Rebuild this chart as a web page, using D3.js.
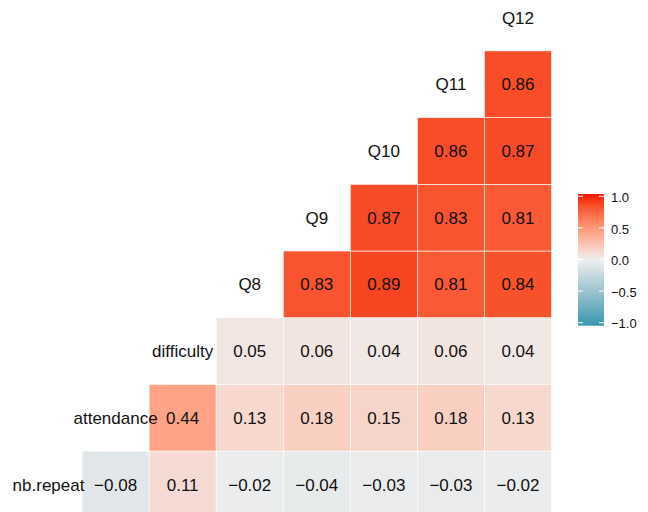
<!DOCTYPE html>
<html><head><meta charset="utf-8">
<script src="https://cdn.jsdelivr.net/npm/d3@7"></script>
<style>body{margin:0;background:#fff}svg{display:block}</style>
</head><body>
<svg id="chart" width="648" height="512"></svg>
<script>
// variables, in diagonal order (bottom-left to top-right)
const variables = ["nb.repeat","attendance","difficulty","Q8","Q9","Q10","Q11","Q12"];
// correlations of each variable with the variables after it
const corrNbRepeat   = [-0.08, 0.11, -0.02, -0.04, -0.03, -0.03, -0.02];
const corrAttendance = [0.44, 0.13, 0.18, 0.15, 0.18, 0.13];
const corrDifficulty = [0.05, 0.06, 0.04, 0.06, 0.04];
const corrQ8         = [0.83, 0.89, 0.81, 0.84];
const corrQ9         = [0.87, 0.83, 0.81];
const corrQ10        = [0.86, 0.87];
const corrQ11        = [0.86];
const legendTicks    = [-1, -0.5, 0, 0.5, 1];

const rows = [corrNbRepeat, corrAttendance, corrDifficulty, corrQ8, corrQ9, corrQ10, corrQ11];
const cells = [];
rows.forEach((vals, i) => vals.forEach((v, k) => cells.push({row: variables[i], col: variables[i + 1 + k], value: v})));

const svg = d3.select("#chart");
const font = "'Liberation Sans', Arial, Helvetica, sans-serif";

const x = d3.scaleBand().domain(variables).range([15, 551.5]);
const y = d3.scaleBand().domain(variables).range([517.8, -15.8]);

const color = d3.scaleLinear().domain([-1, 0, 1])
  .range(["#3B9AB2", "#EEEEEE", "#F21A00"]).interpolate(d3.interpolateLab);

const fmt2 = d3.format(".2f");
const fmt1 = d3.format(".1f");

svg.append("g").selectAll("rect").data(cells).join("rect")
  .attr("x", d => x(d.col)).attr("y", d => y(d.row))
  .attr("width", x.bandwidth()).attr("height", y.bandwidth())
  .attr("fill", d => color(d.value))
  .attr("stroke", "white").attr("stroke-width", 0.6);

svg.append("g").selectAll("text").data(cells).join("text")
  .attr("x", d => x(d.col) + x.bandwidth() / 2)
  .attr("y", d => y(d.row) + y.bandwidth() / 2)
  .attr("dy", "0.36em").attr("text-anchor", "middle")
  .attr("font-family", font).attr("font-size", 17).attr("fill", "#111")
  .text(d => fmt2(d.value));

svg.append("g").selectAll("text").data(variables).join("text")
  .attr("x", d => x(d) + x.bandwidth() / 2)
  .attr("y", d => y(d) + y.bandwidth() / 2)
  .attr("dy", "0.36em").attr("text-anchor", "middle")
  .attr("font-family", font).attr("font-size", 17).attr("fill", "#111")
  .text(d => d);

// legend colourbar
const barX = 578, barW = 26, barTop = 194, barBot = 325.7;
const yL = d3.scaleLinear().domain([-1, 1]).range([322.7, 196.3]);
const defs = svg.append("defs");
const grad = defs.append("linearGradient").attr("id", "lg")
  .attr("x1", 0).attr("y1", 1).attr("x2", 0).attr("y2", 0);
d3.range(0, 21).forEach(i => {
  const t = i / 20;
  const v = yL.invert(barBot + (barTop - barBot) * t);
  grad.append("stop").attr("offset", t).attr("stop-color", color(Math.max(-1, Math.min(1, v))));
});
svg.append("rect").attr("x", barX).attr("y", barTop).attr("width", barW)
  .attr("height", barBot - barTop).attr("fill", "url(#lg)");
const tg = svg.append("g");
legendTicks.forEach(t => {
  tg.append("line").attr("x1", barX).attr("x2", barX + 5).attr("y1", yL(t)).attr("y2", yL(t))
    .attr("stroke", "white").attr("stroke-width", 1);
  tg.append("line").attr("x1", barX + barW - 5).attr("x2", barX + barW).attr("y1", yL(t)).attr("y2", yL(t))
    .attr("stroke", "white").attr("stroke-width", 1);
});
const axis = svg.append("g").attr("transform", `translate(${barX + barW},0)`)
  .call(d3.axisRight(yL).tickValues(legendTicks).tickFormat(fmt1).tickSize(0).tickPadding(7));
axis.select(".domain").remove();
axis.selectAll("text").attr("font-family", font).attr("font-size", 13).attr("fill", "#111").attr("dy", "0.4em");
</script>
</body></html>
